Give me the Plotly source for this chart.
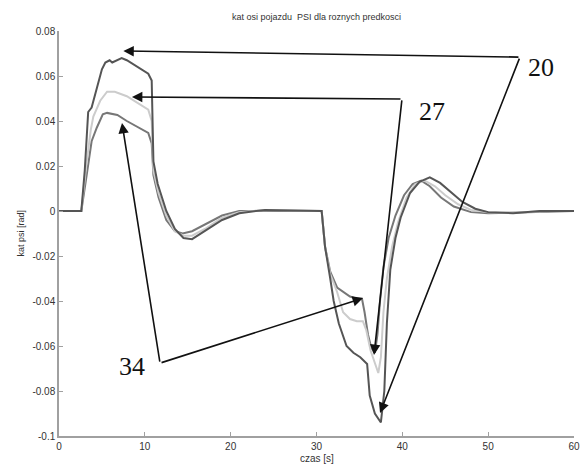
import plotly.graph_objects as go

# ---- data ----
x20 = [0, 2.6, 3.0, 3.4, 3.8, 4.4, 5.0, 5.4, 5.9, 6.2, 6.8, 7.3, 7.9, 10.4, 10.8, 11.0, 11.5, 12.5, 13.5, 14.5,
       15.5, 17, 19, 21, 24, 30.6, 31.0, 31.6, 32.0, 32.6, 33.5, 34.3, 35.1, 35.9, 36.2, 36.8, 37.2, 37.5, 37.9,
       38.2, 38.6, 39.2, 39.8, 40.9, 42.0, 43.2, 44.4, 45.5, 47.0, 48.5, 50, 52.9, 56, 60]
y20 = [0, 0, 0.018, 0.044, 0.046, 0.054, 0.063, 0.066, 0.067, 0.066, 0.067, 0.068, 0.067, 0.061, 0.058, 0.022,
       0.012, 0.0, -0.008, -0.012, -0.0125, -0.009, -0.004, -0.001, 0.0005, 0.0, -0.016, -0.030, -0.040, -0.050,
       -0.060, -0.063, -0.065, -0.068, -0.082, -0.090, -0.092, -0.094, -0.080, -0.050, -0.026, -0.012, -0.003,
       0.008, 0.013, 0.015, 0.0125, 0.009, 0.004, 0.001, -0.0005, -0.001, 0, 0]

x27 = [0, 2.6, 3.2, 3.7, 4.0, 4.8, 5.6, 6.5, 7.9, 9.5, 10.4, 10.8, 11.0, 11.6, 12.5, 13.5, 14.5, 15.5, 17, 19,
       21, 24, 30.6, 31.0, 31.6, 32.4, 33.1, 33.9, 34.7, 35.4, 35.8, 36.3, 36.8, 37.2, 37.5, 37.8, 38.2, 38.8,
       39.5, 40.5, 41.5, 42.6, 43.8, 45, 46.5, 48, 50, 53, 57, 60]
y27 = [0, 0, 0.021, 0.036, 0.042, 0.049, 0.053, 0.053, 0.051, 0.047, 0.045, 0.040, 0.018, 0.008, -0.002,
       -0.009, -0.011, -0.011, -0.008, -0.003, -0.0005, 0.0005, 0.0, -0.016, -0.028, -0.036, -0.045, -0.048,
       -0.049, -0.049, -0.053, -0.062, -0.068, -0.072, -0.065, -0.045, -0.030, -0.016, -0.005, 0.006, 0.012,
       0.0135, 0.011, 0.007, 0.003, 0.0005, -0.0005, -0.0008, 0, 0]

x34 = [0, 2.6, 3.3, 3.8, 4.4, 5.1, 5.6, 6.8, 7.9, 10.4, 10.8, 11.0, 11.6, 12.5, 13.5, 14.4, 15.5, 17, 19, 21,
       30.6, 31.0, 31.6, 32.4, 33.2, 33.9, 34.7, 35.3, 35.6, 36.0, 36.4, 36.8, 37.1, 37.4, 37.8, 38.4, 39.2,
       40.2, 41.2, 42.2, 43.2, 44.5, 46, 48, 50, 54, 60]
y34 = [0, 0, 0.018, 0.031, 0.037, 0.043, 0.0436, 0.0427, 0.040, 0.0347, 0.030, 0.016, 0.006, -0.004, -0.009,
       -0.010, -0.009, -0.006, -0.002, 0, 0, -0.016, -0.027, -0.034, -0.036, -0.038, -0.039, -0.039, -0.045,
       -0.055, -0.061, -0.063, -0.055, -0.040, -0.025, -0.012, -0.002, 0.007, 0.012, 0.0135, 0.011, 0.006,
       0.002, -0.0005, -0.001, -0.0005, 0]

labels = ["20", "27", "34"]
xticks = [0, 10, 20, 30, 40, 50, 60]
yticks = [-0.1, -0.08, -0.06, -0.04, -0.02, 0, 0.02, 0.04, 0.06, 0.08]
ytick_text = ["-0.1", "-0.08", "-0.06", "-0.04", "-0.02", "0", "0.02", "0.04", "0.06", "0.08"]

W, H = 581, 468
L, R, T, B = 59, 7, 31, 32

fig = go.Figure()
fig.add_trace(go.Scatter(x=x34, y=y34, mode="lines", line=dict(color="#777777", width=2), name="34"))
fig.add_trace(go.Scatter(x=x27, y=y27, mode="lines", line=dict(color="#cccccc", width=2), name="27"))
fig.add_trace(go.Scatter(x=x20, y=y20, mode="lines", line=dict(color="#555555", width=2), name="20"))

# arrows: (tail vertex) -> (head target), in data coords
arrows = [
    (53.7, 0.0684, 7.5, 0.0711),
    (53.7, 0.0684, 37.4, -0.0898),
    (39.96, 0.0498, 8.5, 0.0507),
    (39.96, 0.0498, 36.7, -0.064),
    (11.77, -0.0676, 7.34, 0.0391),
    (11.77, -0.0676, 35.42, -0.0387),
]
for ax_, ay_, hx, hy in arrows:
    fig.add_annotation(x=hx, y=hy, ax=ax_, ay=ay_, xref="x", yref="y", axref="x", ayref="y",
                       text="", showarrow=True, arrowhead=2, arrowsize=1.3, arrowwidth=1.6,
                       arrowcolor="#111111", standoff=0, startstandoff=0)

label_pos = [(56.2, 0.0640), (43.46, 0.0444), (8.5, -0.0689)]
for lab, (lx, ly) in zip(labels, label_pos):
    fig.add_annotation(x=lx, y=ly, xref="x", yref="y", text=lab, showarrow=False,
                       font=dict(family="Liberation Serif, Times New Roman, serif", size=26, color="#111111"))

sans = "Liberation Sans, Arial, sans-serif"
pw = W - L - R
ph = H - T - B
fig.add_annotation(x=0.5, y=-(458 - (H - B)) / ph, xref="paper", yref="paper", text="czas [s]",
                   showarrow=False, yanchor="middle", font=dict(family=sans, size=10, color="#333333"))
fig.add_annotation(x=-(L - 20) / pw, y=0.5, xref="paper", yref="paper", text="kat psi [rad]",
                   showarrow=False, textangle=-90, xanchor="center", font=dict(family=sans, size=9, color="#333333"))

axis_common = dict(showgrid=False, zeroline=False, showline=True, linecolor="#a0a0a0", linewidth=1.5,
                   ticks="inside", ticklen=4, tickcolor="#a0a0a0", automargin=False,
                   tickfont=dict(family=sans, size=10, color="#333333"))

fig.update_layout(
    width=W, height=H,
    margin=dict(l=L, r=R, t=T, b=B, autoexpand=False),
    paper_bgcolor="white", plot_bgcolor="white",
    showlegend=False,
    title=dict(text="kat osi pojazdu &nbsp;PSI dla roznych predkosci", x=(L + pw / 2) / W, xanchor="center",
               y=1 - 17 / H, yanchor="middle", automargin=False,
               font=dict(family=sans, size=9, color="#333333")),
    xaxis=dict(range=[0, 60], tickvals=xticks, **axis_common),
    yaxis=dict(range=[-0.1, 0.08], tickvals=yticks, ticktext=ytick_text, **axis_common),
)

fig.write_html("out.html", config={"displayModeBar": False},
               post_script="document.body.style.margin='0';document.body.style.overflow='hidden';")
